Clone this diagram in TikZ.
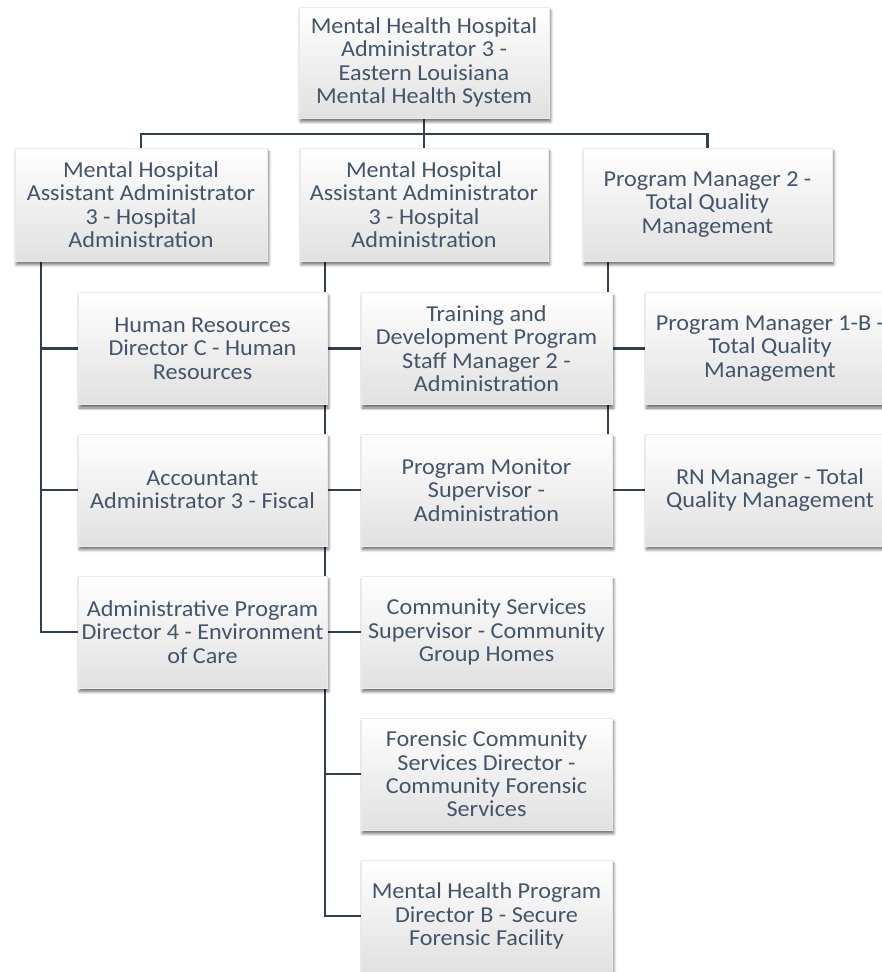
\documentclass[tikz,border=0pt]{standalone}
\usepackage{fontspec}
\setmainfont{Carlito}[FakeStretch=1.06]
\usetikzlibrary{shadows.blur}
\definecolor{txt}{HTML}{44546A}
\definecolor{ln}{HTML}{323F51}
\pgfdeclarelayer{bg}
\pgfsetlayers{bg,main}
\begin{document}
\begin{tikzpicture}[x=1pt,y=-1pt,
  box/.style={rectangle, inner sep=2pt, align=center, text=txt,
    font=\fontsize{22.8}{23.4}\selectfont,
    top color=white, bottom color=black!12, draw=black!8, line width=0.4pt,
    blur shadow={shadow xshift=1.5pt, shadow yshift=-3.5pt, shadow blur radius=3pt, shadow blur steps=6, shadow opacity=60},
    minimum height=112pt},
  wA/.style={minimum width=250pt},
  conn/.style={draw=ln, line width=2.6pt}]
\useasboundingbox (0,0) rectangle (882,972);
\begin{scope}
\clip (0,0) rectangle (882,972);
% tier 0
\node[box, wA, minimum height=111pt] (top) at (424,62.5) {Mental Health Hospital\\Administrator 3 -\\Eastern Louisiana\\Mental Health System};
% tier 1
\node[box, minimum width=252pt, minimum height=113pt] (a1) at (141,204.5) {Mental Hospital\\Assistant Administrator\\3 - Hospital\\Administration};
\node[box, minimum width=248pt, minimum height=113pt] (a2) at (424,204.5) {Mental Hospital\\Assistant Administrator\\3 - Hospital\\Administration};
\node[box, minimum width=249pt, minimum height=113pt] (a3) at (707.5,204.5) {Program Manager 2 -\\Total Quality\\Management};
% column B
\node[box, minimum width=249pt] (b1) at (202.5,348.5) {Human Resources\\Director C - Human\\Resources};
\node[box, minimum width=249pt] (b2) at (202.5,490) {Accountant\\Administrator 3 - Fiscal};
\node[box, minimum width=249pt] (b3) at (202.5,632) {Administrative Program\\Director 4 - Environment\\of Care};
% column C
\node[box, minimum width=251pt] (c1) at (486.5,348.5) {Training and\\Development Program\\Staff Manager 2 -\\Administration};
\node[box, minimum width=251pt] (c2) at (486.5,490) {Program Monitor\\Supervisor -\\Administration};
\node[box, minimum width=251pt] (c3) at (486.5,632) {Community Services\\Supervisor - Community\\Group Homes};
\node[box, minimum width=251pt] (c4) at (486.5,774) {Forensic Community\\Services Director -\\Community Forensic\\Services};
\node[box, minimum width=251pt] (c5) at (486.5,916) {Mental Health Program\\Director B - Secure\\Forensic Facility};
% column D
\node[box, minimum width=250pt] (d1) at (770,348.5) {Program Manager 1-B -\\Total Quality\\Management};
\node[box, minimum width=250pt] (d2) at (770,490) {RN Manager - Total\\Quality Management};
% connectors
\begin{pgfonlayer}{bg}
\draw[conn] (top.south) -- (a2.north);
\draw[conn] (a1.north) -- ++(0,-14) -| (a3.north);
\coordinate (tL) at ([xshift=-100pt]a1.south);
\draw[conn] (tL) |- (b3.west);
\draw[conn] (tL |- b1.west) -- (b1.west);
\draw[conn] (tL |- b2.west) -- (b2.west);
\coordinate (tM) at ([xshift=-99pt]a2.south);
\draw[conn] (tM) |- (c5.west);
\foreach \n in {c1,c2,c3,c4}{\draw[conn] (tM |- \n.west) -- (\n.west);}
\coordinate (tR) at ([xshift=-99.5pt]a3.south);
\draw[conn] (tR) |- (d2.west);
\draw[conn] (tR |- d1.west) -- (d1.west);
\end{pgfonlayer}
\end{scope}
\end{tikzpicture}
\end{document}
